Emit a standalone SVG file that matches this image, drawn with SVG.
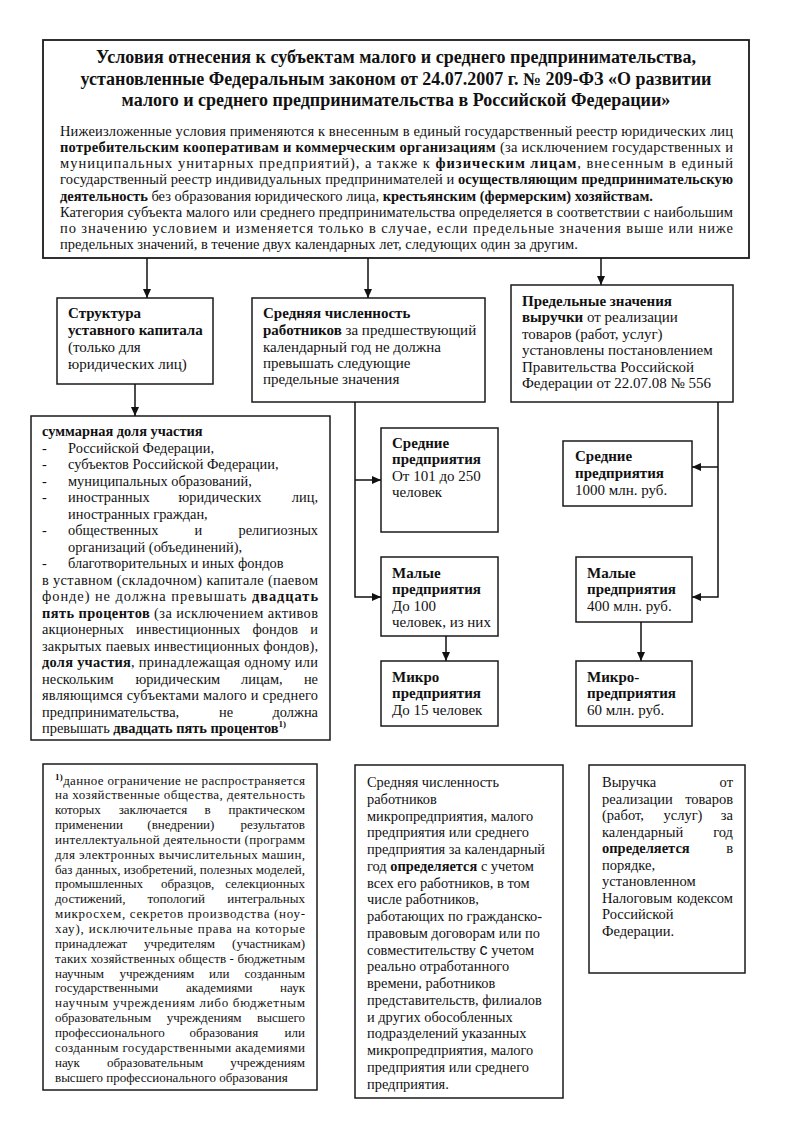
<svg xmlns="http://www.w3.org/2000/svg" width="800" height="1138" viewBox="0 0 800 1138">
<style>
text{font-family:"Liberation Serif","Times New Roman",serif;font-size:15px;fill:#111}
.b{font-weight:bold}
.title{font-size:18px;font-weight:bold;text-anchor:middle}
.p{font-size:14.5px}
.l{font-size:14.4px}
.f{font-size:13px}
.n{font-size:14.4px}
.e{text-anchor:end}
.sup{font-size:9px;font-weight:bold}
rect.box{fill:#fff;stroke:#1a1a1a;stroke-width:1.5}
.conn path{fill:none;stroke:#111;stroke-width:1.5}
</style>
<defs>
<marker id="arr" markerUnits="userSpaceOnUse" markerWidth="10" markerHeight="8" refX="9" refY="4" orient="auto">
<path d="M0,0 L9,4 L0,8 z" fill="#111"/>
</marker>
</defs>
<rect width="800" height="1138" fill="#fff"/>

<g id="header">
<rect class="box" x="43" y="40" width="706" height="218" style="stroke-width:1.8"/>
<text class="title" x="396" y="63">Условия отнесения к субъектам малого и среднего предпринимательства,</text>
<text class="title" x="396" y="85">установленные Федеральным законом от 24.07.2007 г. № 209-ФЗ «О развитии</text>
<text class="title" x="396" y="106">малого и среднего предпринимательства в Российской Федерации»</text>
<text class="p" x="60" y="136" textLength="673" lengthAdjust="spacing">Нижеизложенные условия применяются к внесенным в единый государственный реестр юридических лиц</text>
<text class="p" x="60" y="152" textLength="673" lengthAdjust="spacing"><tspan class="b">потребительским кооперативам и коммерческим организациям</tspan> (за исключением государственных и</text>
<text class="p" x="60" y="168" textLength="673" lengthAdjust="spacing">муниципальных унитарных предприятий), а также к <tspan class="b">физическим лицам</tspan>, внесенным в единый</text>
<text class="p" x="60" y="184" textLength="673" lengthAdjust="spacing">государственный реестр индивидуальных предпринимателей и <tspan class="b">осуществляющим предпринимательскую</tspan></text>
<text class="p" x="60" y="201"><tspan class="b">деятельность</tspan> без образования юридического лица, <tspan class="b">крестьянским (фермерским) хозяйствам.</tspan></text>
<text class="p" x="60" y="217" textLength="673" lengthAdjust="spacing">Категория субъекта малого или среднего предпринимательства определяется в соответствии с наибольшим</text>
<text class="p" x="60" y="233" textLength="673" lengthAdjust="spacing">по значению условием и изменяется только в случае, если предельные значения выше или ниже</text>
<text class="p" x="60" y="249">предельных значений, в течение двух календарных лет, следующих один за другим.</text>
</g>

<g id="capital">
<rect class="box" x="57" y="298" width="156" height="86"/>
<text class="b" x="68" y="318">Структура</text>
<text class="b" x="68" y="335">уставного капитала</text>
<text x="68" y="352">(только для</text>
<text x="68" y="369">юридических лиц)</text>
</g>

<g id="employees">
<rect class="box" x="252" y="298" width="233" height="104"/>
<text class="b" x="263" y="318">Средняя численность</text>
<text x="263" y="335"><tspan class="b">работников</tspan> за предшествующий</text>
<text x="263" y="352">календарный год не должна</text>
<text x="263" y="368">превышать следующие</text>
<text x="263" y="384">предельные значения</text>
</g>

<g id="revenue">
<rect class="box" x="511" y="285" width="222" height="117"/>
<text class="b" x="522" y="306">Предельные значения</text>
<text x="522" y="322"><tspan class="b">выручки</tspan> от реализации</text>
<text x="522" y="339">товаров (работ, услуг)</text>
<text x="522" y="355">установлены постановлением</text>
<text x="522" y="372">Правительства Российской</text>
<text x="522" y="388">Федерации от 22.07.08 № 556</text>
</g>

<g id="share">
<rect class="box" x="31" y="416" width="299" height="324"/>
<text class="l b" x="42" y="436">суммарная доля участия</text>
<text class="l" x="42" y="452.5">-</text><text class="l" x="68" y="452.5">Российской Федерации,</text>
<text class="l" x="42" y="469">-</text><text class="l" x="68" y="469">субъектов Российской Федерации,</text>
<text class="l" x="42" y="485.5">-</text><text class="l" x="68" y="485.5">муниципальных образований,</text>
<text class="l" x="42" y="502">-</text><text class="l" x="68" y="502">иностранных</text><text class="l" x="178.5" y="502">юридических</text><text class="l e" x="318" y="502">лиц,</text>
<text class="l" x="68" y="518.5">иностранных граждан,</text>
<text class="l" x="42" y="535">-</text><text class="l" x="68" y="535">общественных</text><text class="l" x="194.4" y="535">и</text><text class="l e" x="318" y="535">религиозных</text>
<text class="l" x="68" y="551.5">организаций (объединений),</text>
<text class="l" x="42" y="568">-</text><text class="l" x="68" y="568">благотворительных и иных фондов</text>
<text class="l" x="42" y="584.5" textLength="276" lengthAdjust="spacing">в уставном (складочном) капитале (паевом</text>
<text class="l" x="42" y="601" textLength="276" lengthAdjust="spacing">фонде) не должна превышать <tspan class="b">двадцать</tspan></text>
<text class="l" x="42" y="617.5" textLength="276" lengthAdjust="spacing"><tspan class="b">пять процентов</tspan> (за исключением активов</text>
<text class="l" x="42" y="634">акционерных</text><text class="l" x="136.1" y="634">инвестиционных</text><text class="l" x="252.5" y="634">фондов</text><text class="l e" x="318" y="634">и</text>
<text class="l" x="42" y="650.5" textLength="276" lengthAdjust="spacing">закрытых паевых инвестиционных фондов),</text>
<text class="l" x="42" y="667" textLength="276" lengthAdjust="spacing"><tspan class="b">доля участия</tspan>, принадлежащая одному или</text>
<text class="l" x="42" y="683.5">нескольким</text><text class="l" x="135.4" y="683.5">юридическим</text><text class="l" x="241" y="683.5">лицам,</text><text class="l e" x="318" y="683.5">не</text>
<text class="l" x="42" y="700" textLength="276" lengthAdjust="spacing">являющимся субъектами малого и среднего</text>
<text class="l" x="42" y="716.5">предпринимательства,</text><text class="l" x="219" y="716.5">не</text><text class="l e" x="318" y="716.5">должна</text>
<text class="l" x="42" y="733">превышать <tspan class="b">двадцать пять процентов</tspan><tspan class="sup" dy="-6">1)</tspan></text>
</g>

<g id="emp-medium">
<rect class="box" x="381" y="428" width="117" height="104"/>
<text class="b" x="392" y="448">Средние</text>
<text class="b" x="392" y="464">предприятия</text>
<text x="392" y="481">От 101 до 250</text>
<text x="392" y="497">человек</text>
</g>

<g id="emp-small">
<rect class="box" x="381" y="557" width="117" height="79"/>
<text class="b" x="392" y="578">Малые</text>
<text class="b" x="392" y="594">предприятия</text>
<text x="392" y="611">До 100</text>
<text x="392" y="627">человек, из них</text>
</g>

<g id="emp-micro">
<rect class="box" x="381" y="661" width="117" height="65"/>
<text class="b" x="392" y="682">Микро</text>
<text class="b" x="392" y="698">предприятия</text>
<text x="392" y="715">До 15 человек</text>
</g>

<g id="rev-medium">
<rect class="box" x="563" y="441" width="129" height="65"/>
<text class="b" x="575" y="461">Средние</text>
<text class="b" x="575" y="478">предприятия</text>
<text x="575" y="495">1000 млн. руб.</text>
</g>

<g id="rev-small">
<rect class="box" x="576" y="557" width="116" height="65"/>
<text class="b" x="587" y="578">Малые</text>
<text class="b" x="587" y="594">предприятия</text>
<text x="587" y="611">400 млн. руб.</text>
</g>

<g id="rev-micro">
<rect class="box" x="576" y="661" width="116" height="65"/>
<text class="b" x="587" y="682">Микро-</text>
<text class="b" x="587" y="698">предприятия</text>
<text x="587" y="715">60 млн. руб.</text>
</g>

<g id="footnote">
<rect class="box" x="43" y="764" width="274" height="326"/>
<text class="f" x="55" y="784.5" textLength="250" lengthAdjust="spacing"><tspan class="sup" dy="-5">1)</tspan><tspan dy="5">данное ограничение не распространяется</tspan></text>
<text class="f" x="55" y="799.4" textLength="250" lengthAdjust="spacing">на хозяйственные общества, деятельность</text>
<text class="f" x="55" y="814.2">которых</text><text class="f" x="118.7" y="814.2">заключается</text><text class="f" x="204.6" y="814.2">в</text><text class="f e" x="305" y="814.2">практическом</text>
<text class="f" x="55" y="829">применении</text><text class="f" x="147.3" y="829">(внедрении)</text><text class="f e" x="305" y="829">результатов</text>
<text class="f" x="55" y="843.9" textLength="250" lengthAdjust="spacing">интеллектуальной деятельности (программ</text>
<text class="f" x="55" y="858.8" textLength="250" lengthAdjust="spacing">для электронных вычислительных машин,</text>
<text class="f" x="55" y="873.6" textLength="250" lengthAdjust="spacing">баз данных, изобретений, полезных моделей,</text>
<text class="f" x="55" y="888.4">промышленных</text><text class="f" x="161" y="888.4">образцов,</text><text class="f e" x="305" y="888.4">селекционных</text>
<text class="f" x="55" y="903.3">достижений,</text><text class="f" x="147.5" y="903.3">топологий</text><text class="f e" x="305" y="903.3">интегральных</text>
<text class="f" x="55" y="918.2" textLength="250" lengthAdjust="spacing">микросхем, секретов производства (ноу-</text>
<text class="f" x="55" y="933" textLength="250" lengthAdjust="spacing">хау), исключительные права на которые</text>
<text class="f" x="55" y="947.9">принадлежат</text><text class="f" x="144.1" y="947.9">учредителям</text><text class="f e" x="305" y="947.9">(участникам)</text>
<text class="f" x="55" y="962.7" textLength="250" lengthAdjust="spacing">таких хозяйственных обществ - бюджетным</text>
<text class="f" x="55" y="977.6">научным</text><text class="f" x="119.5" y="977.6">учреждениям</text><text class="f" x="209.1" y="977.6">или</text><text class="f e" x="305" y="977.6">созданным</text>
<text class="f" x="55" y="992.4">государственными</text><text class="f" x="186" y="992.4">академиями</text><text class="f e" x="305" y="992.4">наук</text>
<text class="f" x="55" y="1007.3" textLength="250" lengthAdjust="spacing">научным учреждениям либо бюджетным</text>
<text class="f" x="55" y="1022.1">образовательным</text><text class="f" x="166.8" y="1022.1">учреждениям</text><text class="f e" x="305" y="1022.1">высшего</text>
<text class="f" x="55" y="1037">профессионального</text><text class="f" x="189.6" y="1037">образования</text><text class="f e" x="305" y="1037">или</text>
<text class="f" x="55" y="1051.8" textLength="250" lengthAdjust="spacing">созданным государственными академиями</text>
<text class="f" x="55" y="1066.7">наук</text><text class="f" x="107" y="1066.7">образовательным</text><text class="f e" x="305" y="1066.7">учреждениям</text>
<text class="f" x="55" y="1081.5">высшего профессионального образования</text>
</g>

<g id="emp-note">
<rect class="box" x="355" y="765" width="208" height="333"/>
<text class="n" x="367" y="787">Средняя численность</text>
<text class="n" x="367" y="803.8">работников</text>
<text class="n" x="367" y="820.5">микропредприятия, малого</text>
<text class="n" x="367" y="837.3">предприятия или среднего</text>
<text class="n" x="367" y="854">предприятия за календарный</text>
<text class="n" x="367" y="870.8">год <tspan class="b">определяется</tspan> с учетом</text>
<text class="n" x="367" y="887.5">всех его работников, в том</text>
<text class="n" x="367" y="904.3">числе работников,</text>
<text class="n" x="367" y="921">работающих по гражданско-</text>
<text class="n" x="367" y="937.8">правовым договорам или по</text>
<text class="n" x="367" y="954.5">совместительству <tspan style="font-family:'Liberation Sans',Arial,sans-serif;font-size:16px">с</tspan> учетом</text>
<text class="n" x="367" y="971.3">реально отработанного</text>
<text class="n" x="367" y="988">времени, работников</text>
<text class="n" x="367" y="1004.8">представительств, филиалов</text>
<text class="n" x="367" y="1021.5">и других обособленных</text>
<text class="n" x="367" y="1038.3">подразделений указанных</text>
<text class="n" x="367" y="1055">микропредприятия, малого</text>
<text class="n" x="367" y="1071.8">предприятия или среднего</text>
<text class="n" x="367" y="1088.5">предприятия.</text>
</g>

<g id="rev-note">
<rect class="box" x="589" y="765" width="156" height="208"/>
<text class="p" x="602" y="787">Выручка</text><text class="p e" x="733" y="787">от</text>
<text class="p" x="602" y="803.5">реализации</text><text class="p e" x="733" y="803.5">товаров</text>
<text class="p" x="602" y="820">(работ,</text><text class="p" x="663.5" y="820">услуг)</text><text class="p e" x="733" y="820">за</text>
<text class="p" x="602" y="836.5">календарный</text><text class="p e" x="733" y="836.5">год</text>
<text class="p b" x="602" y="853">определяется</text><text class="p e" x="733" y="853">в</text>
<text class="p" x="602" y="869.5">порядке,</text>
<text class="p" x="602" y="886">установленном</text>
<text class="p" x="602" y="902.5">Налоговым</text><text class="p e" x="733" y="902.5">кодексом</text>
<text class="p" x="602" y="919">Российской</text>
<text class="p" x="602" y="935.5">Федерации.</text>
</g>

<g id="connectors" class="conn">
<path d="M147,258 V298" marker-end="url(#arr)"/>
<path d="M368,258 V298" marker-end="url(#arr)"/>
<path d="M601,258 V285" marker-end="url(#arr)"/>
<path d="M135,384 V416" marker-end="url(#arr)"/>
<path d="M355,402 V597 H381" marker-end="url(#arr)"/>
<path d="M355,480 H381" marker-end="url(#arr)"/>
<path d="M718,402 V597 H692" marker-end="url(#arr)"/>
<path d="M718,467 H692" marker-end="url(#arr)"/>
<path d="M446,636 V661" marker-end="url(#arr)"/>
<path d="M641,622 V661" marker-end="url(#arr)"/>
</g>
</svg>
